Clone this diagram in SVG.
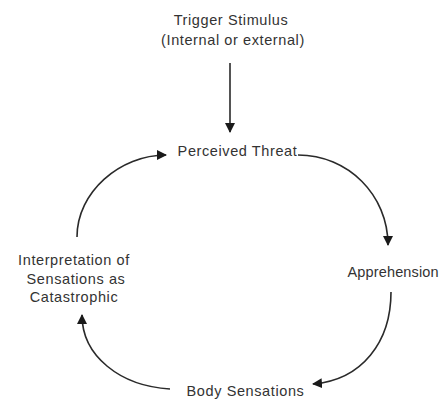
<svg xmlns="http://www.w3.org/2000/svg" width="441" height="399" viewBox="0 0 441 399">
  <style>
    .label { font-family: "Liberation Sans", Arial, sans-serif; font-size: 14.5px; letter-spacing: 0.6px; fill: #333333; }
    .mid { text-anchor: middle; }
    .tight { letter-spacing: 0.15px; }
    .edge { fill: none; stroke: #2a2a2a; stroke-width: 1.6; }
  </style>
  <defs>
    <marker id="arrow" viewBox="0 0 10 10" refX="9" refY="5" markerWidth="10" markerHeight="10" markerUnits="userSpaceOnUse" orient="auto">
      <path d="M0,0 L10,5 L0,10 z" fill="#1a1a1a"/>
    </marker>
  </defs>

  <rect width="441" height="399" fill="#ffffff"/>

  <g id="connectors">
    <!-- trigger into the loop -->
    <path class="edge" d="M230,63 L230,132" marker-end="url(#arrow)"/>
    <!-- perceived threat to apprehension -->
    <path class="edge" d="M298,155 C348,155 388,195 388,245" marker-end="url(#arrow)"/>
    <!-- apprehension to body sensations -->
    <path class="edge" d="M391,292 C391,342 362,380 313,384" marker-end="url(#arrow)"/>
    <!-- body sensations to interpretation -->
    <path class="edge" d="M170,389 C120,386 82,356 82,315" marker-end="url(#arrow)"/>
    <!-- interpretation back to perceived threat -->
    <path class="edge" d="M77,237 C77,192 120,155 166,155" marker-end="url(#arrow)"/>
  </g>

  <g id="trigger">
    <text class="label mid" x="231" y="25">Trigger Stimulus</text>
    <text class="label mid" x="233" y="45">(Internal or external)</text>
  </g>

  <g id="perceived-threat">
    <text class="label mid" x="237.5" y="156">Perceived Threat</text>
  </g>

  <g id="apprehension">
    <text class="label tight" x="347.5" y="277">Apprehension</text>
  </g>

  <g id="body-sensations">
    <text class="label mid" x="245.5" y="396">Body Sensations</text>
  </g>

  <g id="interpretation">
    <text class="label mid" x="74" y="265">Interpretation of</text>
    <text class="label mid" x="76" y="283.5">Sensations as</text>
    <text class="label mid" x="74" y="302">Catastrophic</text>
  </g>
</svg>
